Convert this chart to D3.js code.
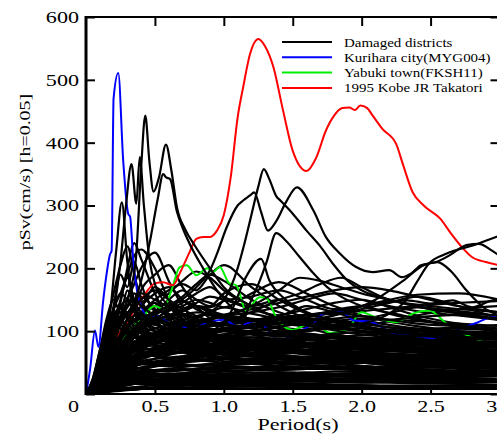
<!DOCTYPE html>
<html>
<head>
<meta charset="utf-8">
<script src="https://cdn.jsdelivr.net/npm/d3@7"></script>
<style>
body { margin: 0; background: #fff; }
text { font-family: "Liberation Serif", "Times New Roman", serif; fill: #000; }
</style>
</head>
<body>
<div id="chart"></div>
<script>

// ---- data: period (s) vs pSv (cm/s) ----

var xTicks = [0.5, 1, 1.5, 2, 2.5, 3];
var yTicks = [0, 100, 200, 300, 400, 500, 600];

var legendNames = ["Damaged districts", "Kurihara city(MYG004)", "Yabuki town(FKSH11)", "1995 Kobe JR Takatori"];
var legendColors = ["#000000", "#0000ff", "#00ee00", "#ff0000"];

// shared period grid for the bulk of the damaged-district spectra
var gridT = [0, 0.05, 0.1, 0.15, 0.2, 0.25, 0.3, 0.35, 0.4, 0.5, 0.6, 0.7, 0.8, 0.9, 1.0, 1.2, 1.4, 1.6, 1.8, 2.0, 2.2, 2.4, 2.7, 3.0];

var districtSv = [
    [0,18,55,110,160,205,235,190,150,120,95,80,70,62,58,55,50,46,44,40,38,36,33,30],
    [0,12,40,85,140,190,170,210,175,130,110,90,85,70,66,60,55,52,48,45,42,40,37,34],
    [0,25,70,120,150,130,165,140,120,100,80,70,64,58,52,48,45,42,40,38,36,34,32,30],
    [0,10,30,60,95,145,200,240,215,160,120,105,90,85,78,70,62,58,55,50,48,46,42,40],
    [0,15,45,90,135,160,185,150,130,145,120,100,88,80,72,66,60,57,52,50,46,44,40,36],
    [0,20,60,100,115,140,125,110,130,115,90,76,68,60,56,52,48,46,44,42,40,38,35,32],
    [0,8,25,55,90,120,150,175,200,225,180,140,115,100,90,80,70,64,60,56,52,50,46,44],
    [0,14,42,75,105,125,140,160,145,170,150,125,110,98,90,82,75,70,66,60,56,52,48,45],
    [0,22,65,105,130,120,110,125,110,95,100,90,80,74,70,65,60,56,52,50,48,46,44,42],
    [0,11,35,70,110,150,190,220,230,200,150,120,100,90,85,78,70,66,62,58,54,50,46,42],
    [0,16,48,80,100,95,115,140,155,135,125,105,95,88,80,74,68,64,60,57,54,50,46,42],
    [0,9,28,50,75,100,120,135,165,190,205,170,140,120,105,95,85,78,72,66,62,58,54,50],
    [0,13,38,65,95,115,105,100,120,140,128,112,100,92,86,80,74,70,66,62,58,56,52,48],
    [0,20,55,85,95,90,100,90,85,92,88,82,75,70,66,62,58,55,52,50,48,46,44,42],
    [0,7,22,45,70,90,110,125,140,160,170,150,135,125,120,110,98,90,84,78,72,68,62,58],
    [0,6,18,38,60,80,95,110,125,140,160,180,195,185,165,140,120,105,95,88,80,74,68,62],
    [0,9,27,50,72,90,104,118,130,150,165,175,165,190,205,170,140,120,110,100,92,86,80,74],
    [0,5,15,30,48,65,80,95,108,125,140,155,175,190,180,150,130,118,108,100,94,88,82,76],
    [0,8,24,45,65,82,96,110,118,130,150,165,150,140,160,175,150,128,115,105,98,92,86,80],
    [0,10,30,55,78,95,108,116,122,128,135,145,160,170,155,140,150,130,115,108,100,95,88,82],
    [0,7,20,40,60,76,88,100,110,120,132,140,150,145,138,160,178,160,140,125,115,108,100,92],
    [0,12,34,60,80,92,100,105,110,118,125,135,145,155,150,135,125,140,130,118,110,104,98,92],
    [0,6,17,34,52,68,82,94,104,115,124,132,140,138,148,155,165,150,135,140,128,118,108,100],
    [0,8,23,44,64,80,92,102,108,112,118,125,130,128,122,118,125,135,145,150,138,125,112,104],
    [0,10,28,50,70,85,96,104,110,118,124,128,122,130,138,128,120,115,125,135,145,155,140,120],
    [0,9,26,48,66,82,95,108,118,132,145,128,115,108,112,118,112,108,104,100,98,96,94,90],
    [0,11,32,58,76,88,98,104,110,114,120,132,140,128,120,112,106,102,110,118,128,138,132,124],
    [0,4,12,24,36,48,58,68,76,88,98,106,114,120,126,135,145,155,165,170,165,155,140,130],
    [0,5,14,28,42,55,66,76,84,95,104,110,116,120,124,130,138,150,160,150,140,132,125,118],
    [0,3,10,20,30,40,48,56,62,72,80,88,95,100,104,110,115,122,130,140,150,158,160,150],
    [0,4,13,26,38,50,60,70,78,90,98,104,108,112,114,118,122,126,128,132,136,140,145,148],
    [0,6,17,32,46,58,68,76,82,90,96,100,104,108,110,115,120,118,114,110,116,125,135,140],
    [0,5,15,30,44,56,66,74,80,88,94,98,100,102,104,106,108,112,116,120,118,116,112,108],
    [0,3,9,18,28,38,46,54,60,70,78,84,90,96,100,108,116,120,118,112,106,100,95,90],
    [0,4,11,20,28,35,40,44,48,52,55,58,60,62,64,66,68,70,71,72,73,74,75,76],
    [0,3,8,14,20,25,30,34,38,44,48,50,52,54,55,56,57,58,58,59,60,60,61,62],
    [0,5,14,24,32,38,42,45,47,48,48,47,46,45,44,43,42,41,40,39,38,38,37,36],
    [0,2,6,11,16,20,24,28,31,36,40,43,45,47,48,50,51,52,52,53,53,54,54,55],
    [0,6,16,26,33,37,38,37,35,32,30,28,27,26,25,24,23,22,22,21,21,20,20,19],
    [0,2,5,9,13,16,19,22,24,28,31,33,35,36,37,38,39,40,40,41,41,42,42,42],
    [0,3,9,16,22,27,30,32,33,33,32,31,30,29,28,27,26,25,24,24,23,23,22,22],
    [0,1,4,7,10,13,15,17,19,22,24,26,27,28,29,30,31,31,32,32,33,33,33,34],
    [0,4,10,17,22,25,26,26,25,23,21,20,19,18,17,16,15,15,14,14,13,13,13,12],
    [0,1,3,5,7,9,10,11,12,14,15,16,17,18,18,19,19,20,20,20,21,21,21,21],
    [0,2,6,10,14,16,18,19,19,18,17,16,15,14,13,12,12,11,11,10,10,10,9,9],
    [0,1,2,3,4,5,6,7,8,9,10,10,11,11,11,12,12,12,12,13,13,13,13,13],
    [0,3,7,12,17,21,24,26,27,28,28,27,26,25,24,23,22,21,20,19,18,17,16,15],
    [0,2,5,8,11,13,15,16,17,18,18,19,19,20,20,21,22,23,24,25,26,27,28,29],
    [0,5,12,22,32,42,50,56,60,64,66,66,65,64,62,60,58,56,55,54,53,52,51,50],
    [0,3,9,18,28,38,46,52,58,66,72,76,78,80,81,82,82,82,81,80,79,78,77,76],
    [0,4,12,24,36,46,54,60,64,70,74,76,76,75,74,72,70,68,66,64,62,60,58,56],
    [0,6,18,34,48,58,64,68,70,72,72,70,68,66,64,62,60,58,56,54,52,50,48,46],
    [0,2,7,14,22,30,37,43,48,56,62,67,70,72,74,76,78,80,82,84,86,88,90,92],
    [0,3,10,20,30,38,44,48,52,56,58,60,62,64,66,70,74,78,82,86,88,90,92,94],
    [0,10,28,45,60,72,80,76,70,74,80,72,66,70,64,60,62,58,55,57,52,50,48,46],
    [0,14,40,66,85,96,90,82,88,92,84,78,82,75,70,72,68,64,66,60,58,56,54,52],
    [0,8,22,38,52,64,74,82,88,84,78,86,80,74,78,72,70,74,68,66,64,62,60,58],
    [0,12,34,58,78,90,98,92,86,80,88,82,76,80,74,70,66,70,64,62,60,58,56,54],
    [0,6,16,28,40,52,62,70,76,82,90,96,92,88,94,86,82,86,80,78,76,74,72,70],
    [0,9,24,42,58,70,78,84,80,76,70,76,82,78,72,76,70,66,70,64,62,60,58,56],
    [0,15,44,76,100,110,100,94,100,92,86,90,84,80,76,78,72,70,68,66,64,62,60,58],
    [0,11,30,52,70,82,90,96,100,94,88,96,100,92,86,90,84,80,84,78,76,74,72,70],
    [0,7,19,34,48,60,70,78,84,90,96,100,104,98,102,96,92,96,90,88,86,84,82,80],
    [0,13,36,60,80,94,102,96,90,98,104,96,90,94,88,84,88,82,80,78,76,74,72,70],
    [0,5,13,24,34,44,52,58,62,66,70,72,74,78,76,80,84,88,84,86,90,92,88,86],
    [0,10,26,44,58,68,74,78,82,86,82,78,84,88,82,80,84,90,94,88,84,80,78,76],
    [0,16,46,80,110,130,120,108,115,105,98,92,88,84,80,78,76,74,72,70,68,66,64,62],
    [0,18,52,92,125,140,150,130,118,110,104,96,92,88,84,82,78,76,74,72,70,68,66,64],
    [0,12,36,66,96,120,138,150,140,125,112,104,98,94,90,86,82,80,78,76,74,72,70,68],
    [0,20,58,100,135,160,150,135,125,118,108,100,95,90,86,84,80,78,76,74,72,70,68,66],
    [0,9,26,48,72,96,118,136,150,165,150,135,124,116,110,104,100,96,92,90,88,86,84,82],
    [0,14,42,78,112,138,130,145,160,150,138,128,120,112,106,100,96,92,90,88,86,84,82,80],
    [0,11,32,58,86,110,128,142,130,118,125,116,108,104,100,96,92,90,88,86,84,82,80,78],
    [0,17,50,88,118,135,125,115,120,112,104,110,102,96,92,90,88,86,84,82,80,78,76,74],
    [0,6,18,34,52,70,86,100,112,128,140,148,140,132,126,120,114,110,106,104,102,100,98,96],
    [0,8,22,40,60,78,94,106,116,130,138,132,140,134,124,118,122,114,108,112,106,104,100,98],
    [0,4,12,22,32,42,50,56,60,64,66,68,70,72,74,78,82,86,90,94,98,102,106,110],
    [0,3,8,15,22,28,34,38,42,46,50,52,54,56,58,62,66,70,72,76,80,84,88,92],
    [0,7,20,36,50,60,66,68,66,62,58,56,58,60,56,54,56,52,50,52,48,46,48,44],
    [0,5,14,26,38,48,56,62,64,60,56,60,64,60,58,62,58,56,60,56,54,56,52,50],
    [0,4,11,20,28,34,38,40,42,44,46,44,46,48,46,48,50,48,50,52,50,52,54,52],
    [0,6,16,28,38,46,50,52,50,48,52,50,54,52,50,54,52,50,48,50,48,46,48,46],
    [0,3,9,16,22,27,31,34,36,38,40,38,40,42,40,42,44,42,44,42,44,46,44,46],
    [0,5,13,22,30,36,40,42,40,38,36,38,36,34,36,34,32,34,32,30,32,30,28,30],
    [0,2,6,12,18,24,28,32,34,36,38,40,38,40,42,40,38,40,42,44,42,44,46,44],
    [0,4,10,18,25,30,33,34,33,31,29,30,28,29,27,28,26,27,25,26,24,25,23,24],
    [0,2,4,7,10,12,14,16,17,19,20,21,22,23,24,25,26,27,28,28,29,30,30,31],
    [0,3,7,11,14,16,17,17,16,15,14,14,13,13,12,12,11,11,10,10,10,9,9,9],
    [0,1,3,6,9,12,14,16,18,21,23,25,26,27,28,29,30,31,32,33,34,35,36,37],
    [0,8,22,40,58,74,86,94,98,104,110,114,118,114,110,108,112,116,120,124,118,112,108,104],
    [0,10,28,50,72,92,108,118,124,120,114,118,124,128,122,116,120,126,130,124,118,122,126,120],
    [0,12,30,48,62,70,74,72,68,64,68,72,68,64,66,62,58,60,56,54,56,52,50,52],
    [0,16,42,64,78,84,82,78,74,78,74,70,72,68,70,66,64,66,62,60,62,58,56,58],
    [0,20,56,88,108,116,110,102,96,90,94,88,84,86,80,78,80,76,74,72,74,70,68,70],
    [0,24,68,100,112,104,96,90,86,82,86,80,76,78,72,70,72,68,66,68,64,62,64,60],
    [0,18,50,82,104,118,126,118,108,100,96,100,94,90,92,86,84,86,82,80,78,80,76,74],
    [0,9,24,40,54,64,70,74,76,78,76,80,82,78,80,84,80,78,82,80,76,78,80,78],
    [0,7,18,30,40,48,54,58,60,62,64,66,64,68,66,64,66,68,64,66,68,66,64,66],
    [0,6,15,26,34,40,44,46,48,50,52,54,56,54,58,56,60,58,62,60,64,62,66,64],
    [0,5,12,20,26,30,32,34,36,38,36,38,40,38,40,42,40,42,44,42,44,46,44,46],
    [0,8,20,32,42,48,50,50,48,46,44,46,44,42,44,42,40,42,40,38,40,38,36,38],
    [0,4,9,15,20,24,27,29,30,31,32,33,32,34,33,34,35,34,36,35,36,37,36,38],
    [0,6,14,22,28,32,34,34,33,32,31,32,31,30,31,30,29,30,29,28,29,28,27,28],
    [0,10,26,42,56,66,72,74,72,70,72,74,76,74,72,74,76,78,76,74,76,78,80,78],
    [0,14,38,62,80,92,98,100,98,94,92,96,98,94,92,96,94,92,96,98,94,92,96,94],
    [0,11,30,50,66,78,86,90,92,94,92,90,94,96,100,98,96,100,104,100,98,102,104,100],
    [0,3,7,12,16,19,21,23,24,25,25,26,26,27,27,28,28,29,29,30,30,31,31,32],
    [0,2,5,9,12,15,17,18,19,20,21,20,21,22,21,22,23,22,23,24,23,24,25,24],
    [0,3,8,13,18,21,23,24,24,23,22,23,22,21,22,21,20,21,20,19,20,19,18,19],
    [0,1,3,5,6,7,8,9,10,11,12,13,14,15,15,16,17,17,18,18,19,19,20,20],
    [0,4,9,14,18,20,21,21,20,19,18,17,17,16,16,15,15,14,14,13,13,13,12,12],
    [0,2,5,8,11,14,16,18,20,22,24,26,27,28,29,30,30,31,31,32,32,33,33,34],
    [0,1,2,4,5,6,7,7,8,8,8,8,8,8,8,8,8,8,8,8,8,8,8,8],
    [0,3,6,10,13,16,18,20,21,23,24,25,26,26,27,27,28,28,29,29,30,30,31,31],
    [0,5,11,17,22,26,28,29,29,28,27,27,26,26,25,25,24,24,23,23,22,22,21,21]
];

// the few tall damaged-district spectra, [period, pSv]
var peakA = [[0,0],[0.1,45],[0.2,130],[0.25,210],[0.29,300],[0.33,366],[0.365,303],[0.39,377],[0.42,300],[0.46,215],[0.5,175],[0.6,140],[0.7,118],[0.8,104],[1.0,88],[1.2,76],[1.5,66],[2.0,56],[2.5,50],[3.0,46]];
var peakB = [[0,0],[0.1,30],[0.2,80],[0.3,150],[0.36,210],[0.4,360],[0.43,443],[0.46,370],[0.49,322],[0.53,345],[0.58,397],[0.62,355],[0.66,297],[0.72,262],[0.79,236],[0.9,200],[1.0,170],[1.2,140],[1.4,120],[1.7,105],[2.0,95],[2.5,85],[3.0,78]];
var peakC = [[0,0],[0.1,25],[0.2,70],[0.3,120],[0.4,180],[0.47,250],[0.52,310],[0.56,350],[0.58,345],[0.61,342],[0.66,290],[0.7,265],[0.75,240],[0.85,200],[0.95,165],[1.1,130],[1.3,110],[1.6,95],[2.0,85],[2.5,76],[3.0,70]];
var peakD = [[0,0],[0.1,50],[0.18,140],[0.22,230],[0.26,305],[0.3,210],[0.34,150],[0.4,120],[0.5,100],[0.7,85],[1.0,70],[1.5,58],[2.0,50],[3.0,42]];
var peakE = [[0,0],[0.2,55],[0.4,100],[0.6,135],[0.8,170],[0.9,197],[0.95,223],[1.02,265],[1.1,300],[1.14,308],[1.19,316],[1.22,321],[1.27,290],[1.32,260],[1.38,275],[1.45,305],[1.53,329],[1.65,292],[1.74,250],[1.84,224],[1.96,202],[2.08,194],[2.2,197],[2.29,186],[2.36,192],[2.43,205],[2.54,210],[2.64,221],[2.76,237],[2.85,239],[2.94,229],[3.0,220]];
var peakF = [[0,0],[0.2,40],[0.4,80],[0.6,100],[0.8,120],[1.0,150],[1.1,200],[1.15,240],[1.2,285],[1.25,330],[1.29,358],[1.33,342],[1.38,315],[1.41,308],[1.5,287],[1.6,260],[1.7,235],[1.8,205],[1.9,180],[2.0,165],[2.2,150],[2.5,135],[2.8,125],[3.0,118]];
var peakG = [[0,0],[0.3,50],[0.6,80],[0.9,90],[1.1,100],[1.2,150],[1.26,180],[1.31,210],[1.38,256],[1.45,244],[1.55,218],[1.65,192],[1.75,170],[1.85,155],[2.0,140],[2.3,125],[2.6,112],[3.0,100]];
var peakH = [[0,0],[0.3,60],[0.6,90],[0.9,100],[1.05,130],[1.16,186],[1.27,215],[1.33,181],[1.45,150],[1.6,130],[1.8,118],[2.1,105],[2.5,95],[3.0,88]];
var peakI = [[0,0],[0.3,45],[0.6,70],[1.0,90],[1.5,100],[2.0,112],[2.2,128],[2.32,149],[2.4,178],[2.49,208],[2.6,222],[2.7,230],[2.8,236],[2.9,244],[3.0,252]];
var peakJ = [[0,0],[0.3,50],[0.7,85],[1.2,100],[1.7,120],[2.1,150],[2.3,180],[2.45,205],[2.55,210],[2.65,195],[2.76,165],[2.9,135],[3.0,125]];
var peakK = [[0,0],[0.4,60],[0.8,90],[1.2,110],[1.6,125],[2.0,140],[2.33,149],[2.5,144],[2.66,149],[2.8,138],[2.95,149],[3.0,150]];
var peakL = [[0,0],[0.4,70],[0.8,110],[1.2,140],[1.4,165],[1.55,185],[1.7,180],[1.85,170],[2.0,160],[2.2,150],[2.5,135],[3.0,125]];
var peakM = [[0,0],[0.4,60],[0.8,100],[1.2,130],[1.4,150],[1.55,160],[1.7,175],[1.85,185],[2.0,170],[2.2,150],[2.5,140],[3.0,130]];

// Kurihara city (MYG004)
var kuriharaT = [0, 0.03, 0.065, 0.09, 0.125, 0.15, 0.174, 0.186, 0.2, 0.234, 0.27, 0.306, 0.32, 0.343, 0.37, 0.4, 0.45, 0.5, 0.57, 0.7, 0.85, 1.0, 1.1, 1.24, 1.4, 1.53, 1.65, 1.74, 1.86, 1.94, 2.06, 2.18, 2.25, 2.4, 2.51, 2.6, 2.69, 2.83, 2.93, 3.0];
var kuriharaV = [0, 40, 101, 75, 149, 192, 222, 228, 470, 511, 371, 287, 282, 213, 165, 140, 122, 125, 117, 106, 112, 118, 108, 117, 86, 97, 113, 130, 130, 117, 115, 102, 94, 92, 89, 95, 102, 113, 122, 126];

// Yabuki town (FKSH11)
var yabukiT = [0, 0.1, 0.2, 0.3, 0.4, 0.5, 0.56, 0.62, 0.68, 0.73, 0.8, 0.88, 0.92, 0.97, 1.04, 1.09, 1.16, 1.26, 1.31, 1.38, 1.5, 1.6, 1.7, 1.77, 1.89, 2.0, 2.1, 2.18, 2.25, 2.37, 2.49, 2.61, 2.73, 2.85, 3.0];
var yabukiV = [0, 30, 65, 95, 120, 140, 135, 165, 202, 205, 189, 200, 194, 202, 176, 173, 133, 154, 152, 122, 102, 110, 106, 97, 102, 130, 122, 117, 114, 128, 133, 113, 97, 86, 75];

// 1995 Kobe JR Takatori
var kobeT = [0, 0.1, 0.2, 0.3, 0.4, 0.5, 0.56, 0.63, 0.68, 0.75, 0.8, 0.85, 0.9, 0.95, 1.0, 1.05, 1.1, 1.14, 1.19, 1.25, 1.3, 1.36, 1.43, 1.5, 1.6, 1.67, 1.74, 1.8, 1.86, 1.91, 1.95, 1.99, 2.04, 2.08, 2.15, 2.25, 2.3, 2.37, 2.45, 2.57, 2.65, 2.73, 2.8, 2.9, 3.0];
var kobeV = [0, 35, 80, 115, 150, 176, 178, 173, 192, 225, 247, 250, 250, 260, 285, 345, 440, 488, 541, 565, 553, 520, 451, 387, 355, 376, 419, 443, 455, 456, 452, 459, 455, 443, 422, 398, 365, 321, 300, 279, 255, 233, 218, 210, 205];


// ---- drawing ----

var width = 497, height = 434;
var plot = { left: 86, top: 17, right: 499.5, bottom: 394 };

var svg = d3.select("#chart")
    .append("svg")
    .attr("width", width)
    .attr("height", height);

var xScale = d3.scaleLinear().domain([0, 3]).range([plot.left, plot.right]);
var yScale = d3.scaleLinear().domain([0, 600]).range([plot.bottom, plot.top]);

// the original lettering is a wide Times, so stretch each string along its run
function stretch(sel, k) {
    sel.each(function() {
        var w = this.getComputedTextLength();
        d3.select(this).attr("textLength", w * k).attr("lengthAdjust", "spacingAndGlyphs");
    });
}

svg.append("clipPath").attr("id", "plotClip")
    .append("rect")
    .attr("x", plot.left).attr("y", plot.top)
    .attr("width", plot.right - plot.left).attr("height", plot.bottom - plot.top);

var line = d3.line()
    .x(function(d) { return xScale(d[0]); })
    .y(function(d) { return yScale(d[1]); })
    .curve(d3.curveMonotoneX);

function zip(ts, vs) {
    var out = [];
    ts.forEach(function(t, i) { if (vs[i] != null) out.push([t, vs[i]]); });
    return out;
}

var lines = svg.append("g").attr("clip-path", "url(#plotClip)");

function drawBlack(series) {
    series.forEach(function(pts) {
        lines.append("path")
            .attr("d", line(pts))
            .attr("fill", "none")
            .attr("stroke", "#000")
            .attr("stroke-width", 2.2);
    });
}

var bulk = districtSv.map(function(row) { return zip(gridT, row); });
var half = Math.floor(bulk.length / 2);

// half of the district spectra go under the station records, half over
drawBlack(bulk.slice(0, half));

var colored = [
    { pts: zip(yabukiT, yabukiV), color: legendColors[2] },
    { pts: zip(kuriharaT, kuriharaV), color: legendColors[1] },
    { pts: zip(kobeT, kobeV), color: legendColors[3] }
];
colored.forEach(function(d) {
    lines.append("path")
        .attr("d", line(d.pts))
        .attr("fill", "none")
        .attr("stroke", d.color)
        .attr("stroke-width", 2);
});

drawBlack(bulk.slice(half));
drawBlack([peakK, peakL, peakM, peakJ, peakI, peakH, peakG, peakD, peakA, peakC, peakB, peakF, peakE]);

// frame
svg.append("rect")
    .attr("x", plot.left).attr("y", plot.top)
    .attr("width", plot.right - plot.left).attr("height", plot.bottom - plot.top)
    .attr("fill", "none").attr("stroke", "#000").attr("stroke-width", 2);
svg.append("line")
    .attr("x1", plot.left).attr("x2", plot.left)
    .attr("y1", plot.top - 1).attr("y2", plot.bottom + 1)
    .attr("stroke", "#000").attr("stroke-width", 3);

// axes, ticks pointing inward
svg.append("g")
    .attr("transform", "translate(" + plot.left + ",0)")
    .call(d3.axisLeft(yScale).tickValues(yTicks).tickSize(-9).tickPadding(7)
        .tickFormat(function(d) { return d === 0 ? "" : d; }));
svg.append("g")
    .attr("transform", "translate(0," + plot.bottom + ")")
    .call(d3.axisBottom(xScale).tickValues(xTicks).tickSize(-9).tickPadding(6));
svg.append("g")
    .attr("transform", "translate(0," + plot.top + ")")
    .call(d3.axisTop(xScale).tickValues(xTicks).tickSize(-9).tickFormat(""));
svg.append("g")
    .attr("transform", "translate(" + plot.right + ",0)")
    .call(d3.axisRight(yScale).tickValues(yTicks).tickSize(-9).tickFormat(""));

svg.selectAll(".domain").remove();
svg.selectAll(".tick line").attr("stroke", "#000").attr("stroke-width", 2);
svg.selectAll(".tick text")
    .attr("font-family", "Liberation Serif, serif")
    .attr("font-size", 17)
    .attr("fill", "#000");
stretch(svg.selectAll(".tick text").filter(function() { return this.textContent !== ""; }), 1.3);

// single "0" sits at the corner, below the y labels
svg.append("text")
    .attr("x", plot.left - 7)
    .attr("y", 412)
    .attr("text-anchor", "end")
    .attr("font-size", 17)
    .text("0")
    .call(stretch, 1.3);

// axis titles
svg.append("text")
    .attr("x", 298)
    .attr("y", 430)
    .attr("text-anchor", "middle")
    .attr("font-size", 17)
    .text("Period(s)")
    .call(stretch, 1.3);

svg.append("text")
    .attr("transform", "translate(30,172) rotate(-90)")
    .attr("text-anchor", "middle")
    .attr("font-size", 15)
    .text("pSv(cm/s) [h=0.05]")
    .call(stretch, 1.33);

// legend
var legend = svg.append("g").attr("transform", "translate(282,42)");
var rows = legend.selectAll("g")
    .data(legendNames)
    .enter()
    .append("g")
    .attr("transform", function(d, i) { return "translate(0," + (i * 15.3) + ")"; });
rows.append("line")
    .attr("x1", 0).attr("x2", 50)
    .attr("stroke", function(d, i) { return legendColors[i]; })
    .attr("stroke-width", 2);
rows.append("text")
    .attr("x", 62)
    .attr("dy", "0.35em")
    .attr("font-size", 13)
    .text(function(d) { return d; })
    .call(stretch, 1.15);

</script>
</body>
</html>
